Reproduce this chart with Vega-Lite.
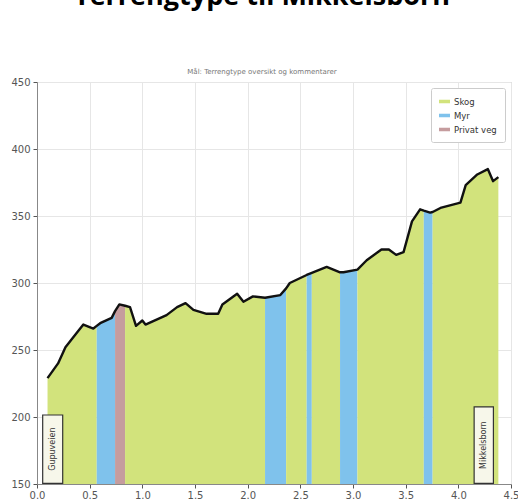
{
  "$schema": "https://vega.github.io/schema/vega-lite/v6.json",
  "width": 474,
  "height": 402,
  "autosize": {"type": "none"},
  "padding": {"left": 37, "top": 82, "right": 7, "bottom": 16},
  "background": "white",
  "title": {
    "text": "Terrengtype til Mikkelsborn",
    "subtitle": "Mål: Terrengtype oversikt og kommentarer",
    "anchor": "middle",
    "dx": -12,
    "offset": 1,
    "font": "Open Sans",
    "fontSize": 27,
    "fontWeight": "bold",
    "color": "#000000",
    "subtitleFont": "DejaVu Sans",
    "subtitleFontSize": 7,
    "subtitleColor": "#777777",
    "subtitlePadding": 57
  },
  "datasets": {
    "terrain": [
      {"d": 0.10, "e": 229, "t": "Skog", "s": 1},
      {"d": 0.20, "e": 240, "t": "Skog", "s": 1},
      {"d": 0.27, "e": 252, "t": "Skog", "s": 1},
      {"d": 0.35, "e": 260, "t": "Skog", "s": 1},
      {"d": 0.44, "e": 269, "t": "Skog", "s": 1},
      {"d": 0.535, "e": 266, "t": "Skog", "s": 1},
      {"d": 0.567, "e": 268, "t": "Skog", "s": 1},
      {"d": 0.567, "e": 268, "t": "Myr", "s": 2},
      {"d": 0.60, "e": 270, "t": "Myr", "s": 2},
      {"d": 0.709, "e": 274, "t": "Myr", "s": 2},
      {"d": 0.741, "e": 279, "t": "Myr", "s": 2},
      {"d": 0.741, "e": 279, "t": "Privat veg", "s": 3},
      {"d": 0.782, "e": 284, "t": "Privat veg", "s": 3},
      {"d": 0.836, "e": 283, "t": "Privat veg", "s": 3},
      {"d": 0.836, "e": 283, "t": "Skog", "s": 4},
      {"d": 0.883, "e": 282, "t": "Skog", "s": 4},
      {"d": 0.94, "e": 268, "t": "Skog", "s": 4},
      {"d": 1.00, "e": 272, "t": "Skog", "s": 4},
      {"d": 1.03, "e": 269, "t": "Skog", "s": 4},
      {"d": 1.23, "e": 276, "t": "Skog", "s": 4},
      {"d": 1.33, "e": 282, "t": "Skog", "s": 4},
      {"d": 1.41, "e": 285, "t": "Skog", "s": 4},
      {"d": 1.485, "e": 280, "t": "Skog", "s": 4},
      {"d": 1.61, "e": 277, "t": "Skog", "s": 4},
      {"d": 1.72, "e": 277, "t": "Skog", "s": 4},
      {"d": 1.76, "e": 284, "t": "Skog", "s": 4},
      {"d": 1.90, "e": 292, "t": "Skog", "s": 4},
      {"d": 1.96, "e": 286, "t": "Skog", "s": 4},
      {"d": 2.05, "e": 290, "t": "Skog", "s": 4},
      {"d": 2.165, "e": 289, "t": "Skog", "s": 4},
      {"d": 2.165, "e": 289, "t": "Myr", "s": 5},
      {"d": 2.31, "e": 291, "t": "Myr", "s": 5},
      {"d": 2.365, "e": 296, "t": "Myr", "s": 5},
      {"d": 2.365, "e": 296, "t": "Skog", "s": 6},
      {"d": 2.40, "e": 300, "t": "Skog", "s": 6},
      {"d": 2.56, "e": 306, "t": "Skog", "s": 6},
      {"d": 2.56, "e": 306, "t": "Myr", "s": 7},
      {"d": 2.609, "e": 307.5, "t": "Myr", "s": 7},
      {"d": 2.609, "e": 307.5, "t": "Skog", "s": 8},
      {"d": 2.75, "e": 312, "t": "Skog", "s": 8},
      {"d": 2.877, "e": 308, "t": "Skog", "s": 8},
      {"d": 2.877, "e": 308, "t": "Myr", "s": 9},
      {"d": 2.91, "e": 308, "t": "Myr", "s": 9},
      {"d": 3.042, "e": 310, "t": "Myr", "s": 9},
      {"d": 3.042, "e": 310, "t": "Skog", "s": 10},
      {"d": 3.13, "e": 317, "t": "Skog", "s": 10},
      {"d": 3.27, "e": 325, "t": "Skog", "s": 10},
      {"d": 3.34, "e": 325, "t": "Skog", "s": 10},
      {"d": 3.41, "e": 321, "t": "Skog", "s": 10},
      {"d": 3.48, "e": 323, "t": "Skog", "s": 10},
      {"d": 3.56, "e": 346, "t": "Skog", "s": 10},
      {"d": 3.637, "e": 355, "t": "Skog", "s": 10},
      {"d": 3.672, "e": 354, "t": "Skog", "s": 10},
      {"d": 3.672, "e": 354, "t": "Myr", "s": 11},
      {"d": 3.732, "e": 352.5, "t": "Myr", "s": 11},
      {"d": 3.756, "e": 353, "t": "Myr", "s": 11},
      {"d": 3.756, "e": 353, "t": "Skog", "s": 12},
      {"d": 3.83, "e": 356, "t": "Skog", "s": 12},
      {"d": 4.02, "e": 360, "t": "Skog", "s": 12},
      {"d": 4.07, "e": 373, "t": "Skog", "s": 12},
      {"d": 4.18, "e": 381, "t": "Skog", "s": 12},
      {"d": 4.28, "e": 385, "t": "Skog", "s": 12},
      {"d": 4.33, "e": 376, "t": "Skog", "s": 12},
      {"d": 4.38, "e": 379, "t": "Skog", "s": 12}
    ],
    "profile": [
      {"d": 0.10, "e": 229}, {"d": 0.20, "e": 240}, {"d": 0.27, "e": 252}, {"d": 0.35, "e": 260},
      {"d": 0.44, "e": 269}, {"d": 0.535, "e": 266}, {"d": 0.567, "e": 268}, {"d": 0.60, "e": 270},
      {"d": 0.709, "e": 274}, {"d": 0.741, "e": 279}, {"d": 0.782, "e": 284}, {"d": 0.836, "e": 283},
      {"d": 0.883, "e": 282}, {"d": 0.94, "e": 268}, {"d": 1.00, "e": 272}, {"d": 1.03, "e": 269},
      {"d": 1.23, "e": 276}, {"d": 1.33, "e": 282}, {"d": 1.41, "e": 285}, {"d": 1.485, "e": 280},
      {"d": 1.61, "e": 277}, {"d": 1.72, "e": 277}, {"d": 1.76, "e": 284}, {"d": 1.90, "e": 292},
      {"d": 1.96, "e": 286}, {"d": 2.05, "e": 290}, {"d": 2.165, "e": 289}, {"d": 2.31, "e": 291},
      {"d": 2.365, "e": 296}, {"d": 2.40, "e": 300}, {"d": 2.56, "e": 306}, {"d": 2.609, "e": 307.5},
      {"d": 2.75, "e": 312}, {"d": 2.877, "e": 308}, {"d": 2.91, "e": 308}, {"d": 3.042, "e": 310},
      {"d": 3.13, "e": 317}, {"d": 3.27, "e": 325}, {"d": 3.34, "e": 325}, {"d": 3.41, "e": 321},
      {"d": 3.48, "e": 323}, {"d": 3.56, "e": 346}, {"d": 3.637, "e": 355}, {"d": 3.672, "e": 354},
      {"d": 3.732, "e": 352.5}, {"d": 3.756, "e": 353}, {"d": 3.83, "e": 356}, {"d": 4.02, "e": 360},
      {"d": 4.07, "e": 373}, {"d": 4.18, "e": 381}, {"d": 4.28, "e": 385}, {"d": 4.33, "e": 376},
      {"d": 4.38, "e": 379}
    ],
    "places": [
      {"name": "Gupuveien", "x1": 0.054, "x2": 0.244, "y1": 150.5, "y2": 201.5, "xm": 0.149, "ym": 176},
      {"name": "Mikkelsborn", "x1": 4.15, "x2": 4.333, "y1": 150.5, "y2": 207.5, "xm": 4.2415, "ym": 179}
    ]
  },
  "layer": [
    {
      "data": {"name": "terrain"},
      "mark": {"type": "area", "opacity": 1},
      "encoding": {
        "x": {
          "field": "d", "type": "quantitative",
          "scale": {"domain": [0, 4.5], "nice": false, "zero": false},
          "axis": {
            "title": null, "values": [0, 0.5, 1, 1.5, 2, 2.5, 3, 3.5, 4, 4.5], "format": ".1f",
            "labelFont": "DejaVu Sans", "labelFontSize": 10, "labelColor": "#555555",
            "domainColor": "#888888", "tickColor": "#555555", "tickSize": 4,
            "gridColor": "#e6e6e6", "labelFlush": false, "labelPadding": 2
          }
        },
        "y": {
          "field": "e", "type": "quantitative",
          "scale": {"domain": [150, 450], "nice": false, "zero": false},
          "axis": {
            "title": null, "values": [150, 200, 250, 300, 350, 400, 450],
            "labelFont": "DejaVu Sans", "labelFontSize": 10, "labelColor": "#555555",
            "domainColor": "#888888", "tickColor": "#555555", "tickSize": 4,
            "gridColor": "#e6e6e6", "labelPadding": 3
          }
        },
        "y2": {"datum": 150},
        "detail": {"field": "s", "type": "nominal"},
        "color": {
          "field": "t", "type": "nominal",
          "scale": {"domain": ["Skog", "Myr", "Privat veg"], "range": ["#d2e37c", "#7fc2ec", "#c59c9e"]},
          "legend": {
            "title": null, "orient": "top-right", "offset": 6, "padding": 8,
            "strokeColor": "#cccccc", "fillColor": "#ffffff",
            "symbolType": "M-1,-0.32H1V0.32H-1Z", "symbolSize": 121, "symbolStrokeWidth": 0,
            "labelFont": "DejaVu Sans", "labelFontSize": 8.5, "labelColor": "#333333",
            "rowPadding": 4, "cornerRadius": 2
          }
        }
      }
    },
    {
      "data": {"name": "profile"},
      "mark": {"type": "line", "color": "#111111", "strokeWidth": 2.4, "strokeJoin": "round"},
      "encoding": {
        "x": {"field": "d", "type": "quantitative"},
        "y": {"field": "e", "type": "quantitative"}
      }
    },
    {
      "data": {"name": "places"},
      "mark": {"type": "rect", "fill": "#f7f7ea", "stroke": "#333333", "strokeWidth": 1.2},
      "encoding": {
        "x": {"field": "x1", "type": "quantitative"},
        "x2": {"field": "x2"},
        "y": {"field": "y1", "type": "quantitative"},
        "y2": {"field": "y2"}
      }
    },
    {
      "data": {"name": "places"},
      "mark": {"type": "text", "angle": 270, "font": "DejaVu Sans", "fontSize": 8, "color": "#333333", "align": "center", "baseline": "middle"},
      "encoding": {
        "x": {"field": "xm", "type": "quantitative"},
        "y": {"field": "ym", "type": "quantitative"},
        "text": {"field": "name"}
      }
    }
  ],
  "config": {
    "view": {"stroke": "#bbbbbb", "strokeWidth": 1}
  }
}
